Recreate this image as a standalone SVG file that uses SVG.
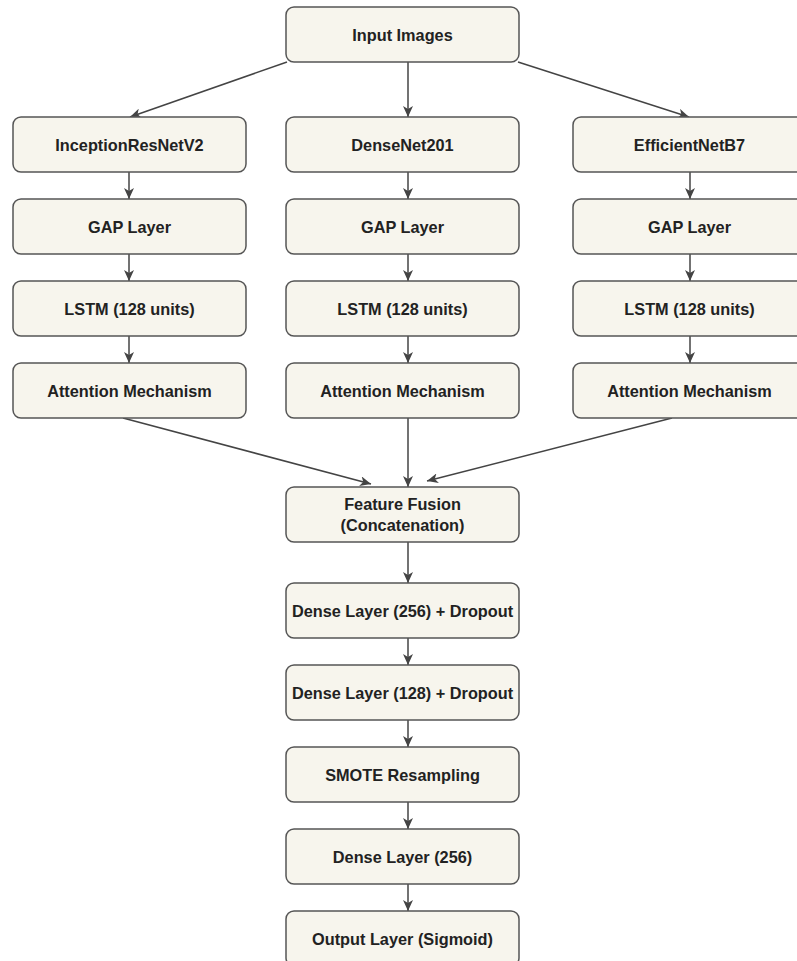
<svg xmlns="http://www.w3.org/2000/svg" width="797" height="961" viewBox="0 0 797 961">
  <style>
    .box { fill: #f7f5ed; stroke: #555555; stroke-width: 1.5; }
    .lbl { font-family: "Liberation Sans", Arial, sans-serif; font-size: 16.3px; font-weight: bold; fill: #222222; text-anchor: middle; dominant-baseline: central; }
    .edge { fill: none; stroke: #444444; stroke-width: 1.5; marker-end: url(#arrow); }
  </style>
  <defs>
    <marker id="arrow" markerUnits="userSpaceOnUse" markerWidth="12" markerHeight="10" refX="11" refY="5" orient="auto">
      <path d="M0,0 L11,5 L0,10 L3,5 z" fill="#444444"/>
    </marker>
  </defs>
  <rect width="797" height="961" fill="#ffffff"/>

  <!-- connectors -->
  <g id="connectors">
    <line class="edge" x1="287" y1="62" x2="130" y2="117"/>
    <line class="edge" x1="408" y1="62" x2="408" y2="117"/>
    <line class="edge" x1="518" y1="62" x2="689" y2="117"/>

    <line class="edge" x1="129" y1="172" x2="129" y2="199"/>
    <line class="edge" x1="129" y1="254" x2="129" y2="281"/>
    <line class="edge" x1="129" y1="336" x2="129" y2="363"/>
    <line class="edge" x1="408" y1="172" x2="408" y2="199"/>
    <line class="edge" x1="408" y1="254" x2="408" y2="281"/>
    <line class="edge" x1="408" y1="336" x2="408" y2="363"/>
    <line class="edge" x1="690" y1="172" x2="690" y2="199"/>
    <line class="edge" x1="690" y1="254" x2="690" y2="281"/>
    <line class="edge" x1="690" y1="336" x2="690" y2="363"/>

    <line class="edge" x1="123" y1="418" x2="371" y2="484"/>
    <line class="edge" x1="408" y1="418" x2="408" y2="487"/>
    <line class="edge" x1="672" y1="418" x2="427" y2="481"/>

    <line class="edge" x1="408" y1="542" x2="408" y2="583"/>
    <line class="edge" x1="408" y1="638" x2="408" y2="665"/>
    <line class="edge" x1="408" y1="720" x2="408" y2="747"/>
    <line class="edge" x1="408" y1="802" x2="408" y2="829"/>
    <line class="edge" x1="408" y1="884" x2="408" y2="911"/>
  </g>

  <!-- nodes -->
  <g id="input">
    <rect class="box" x="286" y="7" width="233" height="55" rx="8"/>
    <text class="lbl" x="402.5" y="34.5">Input Images</text>
  </g>

  <g id="inception">
    <rect class="box" x="13" y="117" width="233" height="55" rx="8"/>
    <text class="lbl" x="129.5" y="144.5">InceptionResNetV2</text>
  </g>
  <g id="densenet">
    <rect class="box" x="286" y="117" width="233" height="55" rx="8"/>
    <text class="lbl" x="402.5" y="144.5">DenseNet201</text>
  </g>
  <g id="efficientnet">
    <rect class="box" x="573" y="117" width="233" height="55" rx="8"/>
    <text class="lbl" x="689.5" y="144.5">EfficientNetB7</text>
  </g>

  <g id="gap1">
    <rect class="box" x="13" y="199" width="233" height="55" rx="8"/>
    <text class="lbl" x="129.5" y="226.5">GAP Layer</text>
  </g>
  <g id="gap2">
    <rect class="box" x="286" y="199" width="233" height="55" rx="8"/>
    <text class="lbl" x="402.5" y="226.5">GAP Layer</text>
  </g>
  <g id="gap3">
    <rect class="box" x="573" y="199" width="233" height="55" rx="8"/>
    <text class="lbl" x="689.5" y="226.5">GAP Layer</text>
  </g>

  <g id="lstm1">
    <rect class="box" x="13" y="281" width="233" height="55" rx="8"/>
    <text class="lbl" x="129.5" y="308.5">LSTM (128 units)</text>
  </g>
  <g id="lstm2">
    <rect class="box" x="286" y="281" width="233" height="55" rx="8"/>
    <text class="lbl" x="402.5" y="308.5">LSTM (128 units)</text>
  </g>
  <g id="lstm3">
    <rect class="box" x="573" y="281" width="233" height="55" rx="8"/>
    <text class="lbl" x="689.5" y="308.5">LSTM (128 units)</text>
  </g>

  <g id="attn1">
    <rect class="box" x="13" y="363" width="233" height="55" rx="8"/>
    <text class="lbl" x="129.5" y="390.5">Attention Mechanism</text>
  </g>
  <g id="attn2">
    <rect class="box" x="286" y="363" width="233" height="55" rx="8"/>
    <text class="lbl" x="402.5" y="390.5">Attention Mechanism</text>
  </g>
  <g id="attn3">
    <rect class="box" x="573" y="363" width="233" height="55" rx="8"/>
    <text class="lbl" x="689.5" y="390.5">Attention Mechanism</text>
  </g>

  <g id="fusion">
    <rect class="box" x="286" y="487" width="233" height="55" rx="8"/>
    <text class="lbl" x="402.5" y="504">Feature Fusion</text>
    <text class="lbl" x="402.5" y="525">(Concatenation)</text>
  </g>

  <g id="dense256drop">
    <rect class="box" x="286" y="583" width="233" height="55" rx="8"/>
    <text class="lbl" x="402.5" y="610.5">Dense Layer (256) + Dropout</text>
  </g>
  <g id="dense128drop">
    <rect class="box" x="286" y="665" width="233" height="55" rx="8"/>
    <text class="lbl" x="402.5" y="692.5">Dense Layer (128) + Dropout</text>
  </g>
  <g id="smote">
    <rect class="box" x="286" y="747" width="233" height="55" rx="8"/>
    <text class="lbl" x="402.5" y="774.5">SMOTE Resampling</text>
  </g>
  <g id="dense256">
    <rect class="box" x="286" y="829" width="233" height="55" rx="8"/>
    <text class="lbl" x="402.5" y="856.5">Dense Layer (256)</text>
  </g>
  <g id="output">
    <rect class="box" x="286" y="911" width="233" height="55" rx="8"/>
    <text class="lbl" x="402.5" y="938.5">Output Layer (Sigmoid)</text>
  </g>
</svg>
